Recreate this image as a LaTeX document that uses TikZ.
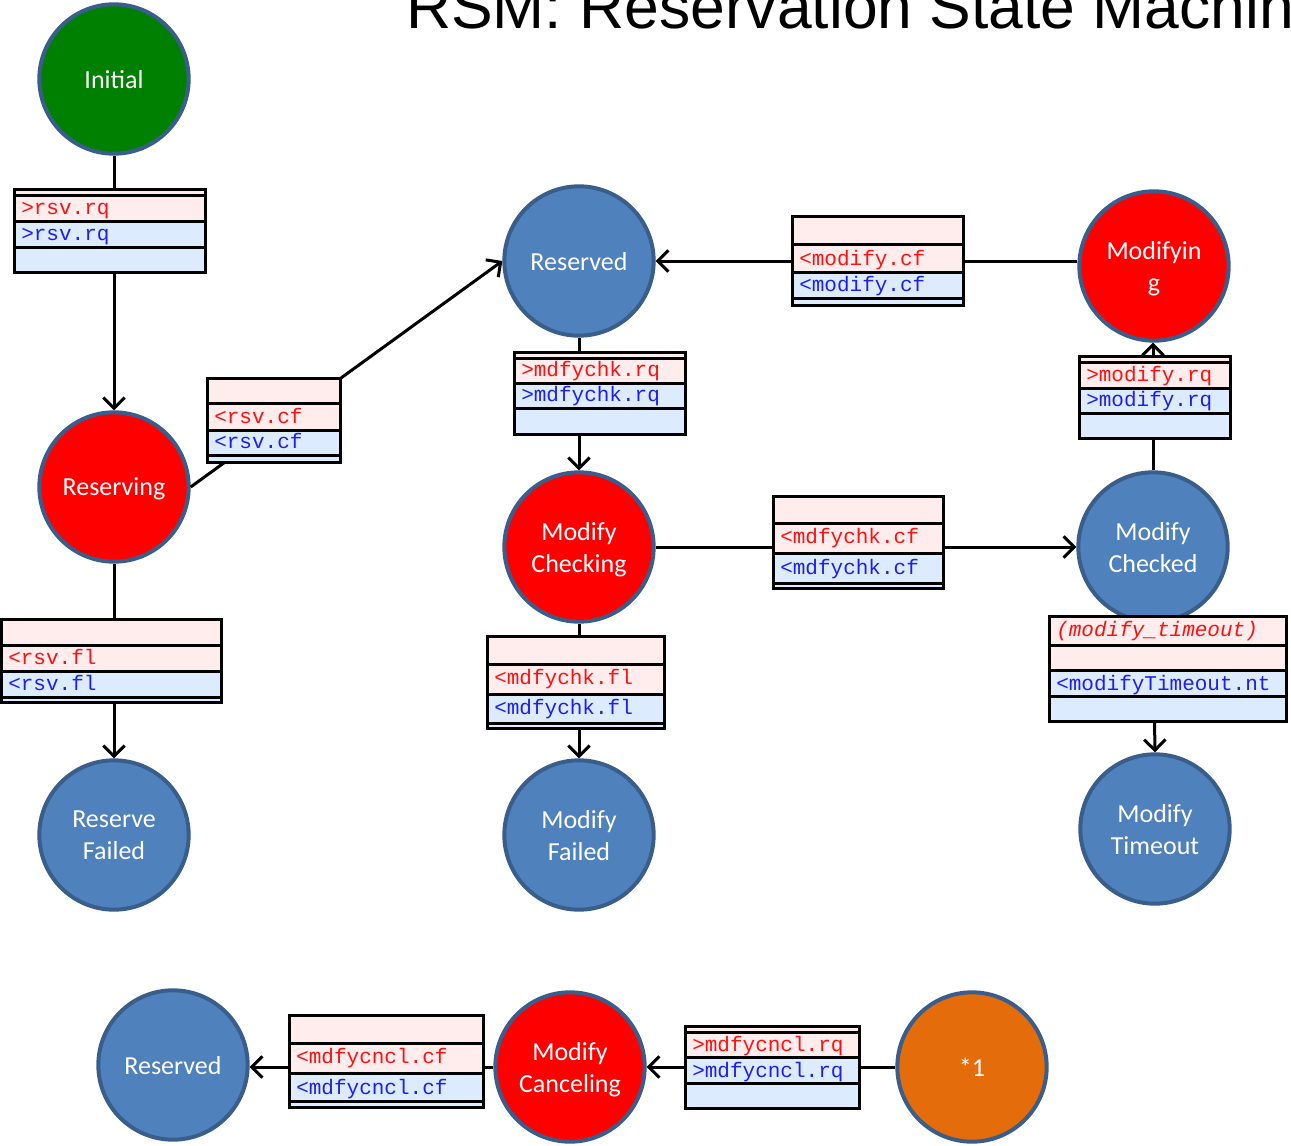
\documentclass[tikz,border=0pt]{standalone}
\usepackage{fontspec}
\setmainfont{Liberation Sans}
\newfontfamily\bodyfont{Carlito}
\newfontfamily\codefont{Liberation Mono}
\newfontfamily\headfont{Liberation Sans}
\usetikzlibrary{arrows.meta}
\definecolor{stblue}{HTML}{4F81BD}
\definecolor{stedge}{HTML}{3A5E8C}
\definecolor{stred}{HTML}{FF0000}
\definecolor{stgreen}{HTML}{008000}
\definecolor{storange}{HTML}{E46C0A}
\definecolor{rowpink}{HTML}{FFEDED}
\definecolor{rowblue}{HTML}{DDEBFF}
\definecolor{txtred}{HTML}{FF1010}
\definecolor{txtblue}{HTML}{1E1EF0}

% label table: x1, x2, then top, three separators, bottom
\newcommand{\lbox}[7]{%
  \fill[rowpink] (#1,#3) rectangle (#2,#5);
  \fill[rowblue] (#1,#5) rectangle (#2,#7);
  \draw[grid] (#1,#4) -- (#2,#4) (#1,#5) -- (#2,#5) (#1,#6) -- (#2,#6);
  \draw[grid] (#1,#3) rectangle (#2,#7);}

\begin{document}
\begin{tikzpicture}[x=0.75pt,y=-0.75pt,
  state/.style={circle, draw=stedge, line width=3pt, minimum size=112pt,
    inner sep=0pt, text=white, align=center, text depth=0pt,
    font=\bodyfont\fontsize{19.5}{24}\selectfont},
  bluest/.style={state, fill=stblue},
  redst/.style={state, fill=stred},
  conn/.style={line width=2.25pt, -{Straight Barb[length=8pt,width=16pt]}},
  grid/.style={line width=2.25pt, draw=black},
  rt/.style={anchor=base west, inner sep=0pt, text=txtred,
    font=\codefont\fontsize{15.75}{16}\selectfont},
  bt/.style={rt, text=txtblue}]

\useasboundingbox (0,0) rectangle (1291,1145);
\clip (0,0) rectangle (1291,1145);
\fill[white] (0,0) rectangle (1291,1145);

% heading
\node[anchor=base west, inner sep=0pt,
  font=\headfont\fontsize{46.8}{47}\selectfont] (title) at (406,29)
  {RSM: Reservation State Machine};

% states
\node[state, fill=stgreen] (init) at (114,79) {Initial};
\node[redst]  (resvg)     at (114,487)  {Reserving};
\node[bluest] (resvd)     at (579,261)  {Reserved};
\node[redst]  (modifying) at (1154,266) {Modifyin\\g};
\node[redst]  (mchking)   at (579,547)  {Modify\\Checking};
\node[bluest] (mchked)    at (1153,547) {Modify\\Checked};
\node[bluest] (rfail)     at (114,835)  {Reserve\\Failed};
\node[bluest] (mfail)     at (579,835)  {Modify\\Failed};
\node[bluest] (mtimeout)  at (1155,829) {Modify\\Timeout};
\node[bluest] (resvd2)    at (173,1065) {Reserved};
\node[redst]  (mcncl)     at (570,1067) {Modify\\Canceling};
\node[state, fill=storange] (star) at (972,1067) {*1};

% transitions
\draw[conn] (init) -- (resvg);
\draw[conn] (resvg.east) -- (resvd.west);
\draw[conn] (modifying.west |- resvd.east) -- (resvd.east);
\draw[conn] (resvd) -- (mchking);
\draw[conn] (mchking) -- (mchked);
\draw[conn] (mchked.north) -- (mchked.north |- modifying.south);
\draw[conn] (resvg) -- (rfail);
\draw[conn] (mchking) -- (mfail);
\draw[conn] (mchked.south) -- (mtimeout.north);
\draw[conn] (mcncl.west) -- (mcncl.west -| resvd2.east);
\draw[conn] (star) -- (mcncl);

% transition labels
\lbox{14}{205}{189}{195}{221}{247}{272}
\node[rt] (l1a) at (21,214) {>rsv.rq};
\node[bt] (l1b) at (21,240) {>rsv.rq};

\lbox{207}{340}{378}{403}{430}{455}{462}
\node[rt] (l2a) at (214,423) {<rsv.cf};
\node[bt] (l2b) at (214,448) {<rsv.cf};

\lbox{792}{963}{216}{244}{272}{298}{305}
\node[rt] (l3a) at (799,265) {<modify.cf};
\node[bt] (l3b) at (799,291) {<modify.cf};

\lbox{514}{685}{352}{358}{383}{408}{434}
\node[rt] (l4a) at (521,376) {>mdfychk.rq};
\node[bt] (l4b) at (521,401) {>mdfychk.rq};

\lbox{1079}{1230}{356}{362}{388}{413}{438}
\node[rt] (l5a) at (1086,381) {>modify.rq};
\node[bt] (l5b) at (1086,406) {>modify.rq};

\lbox{773}{943}{496}{523}{553}{583}{588}
\node[rt] (l6a) at (780,543) {<mdfychk.cf};
\node[bt] (l6b) at (780,574) {<mdfychk.cf};

\lbox{1}{221}{619}{645}{671}{697}{702}
\node[rt] (l7a) at (8,664) {<rsv.fl};
\node[bt] (l7b) at (8,690) {<rsv.fl};

\lbox{487}{664}{636}{664}{694}{723}{728}
\node[rt] (l8a) at (494,684) {<mdfychk.fl};
\node[bt] (l8b) at (494,714) {<mdfychk.fl};

\lbox{1049}{1286}{616}{645}{670}{696}{721}
\node[rt, font=\codefont\itshape\fontsize{15.75}{16}\selectfont] (l9a) at (1056,636) {(modify\_timeout)};
\node[bt] (l9b) at (1056,690) {<modifyTimeout.nt};

\lbox{289}{483}{1015}{1043}{1073}{1101}{1107}
\node[rt] (l10a) at (296,1063) {<mdfycncl.cf};
\node[bt] (l10b) at (296,1094) {<mdfycncl.cf};

\lbox{685}{859}{1026}{1032}{1057}{1083}{1108}
\node[rt] (l11a) at (692,1051) {>mdfycncl.rq};
\node[bt] (l11b) at (692,1077) {>mdfycncl.rq};

\end{tikzpicture}
\end{document}
